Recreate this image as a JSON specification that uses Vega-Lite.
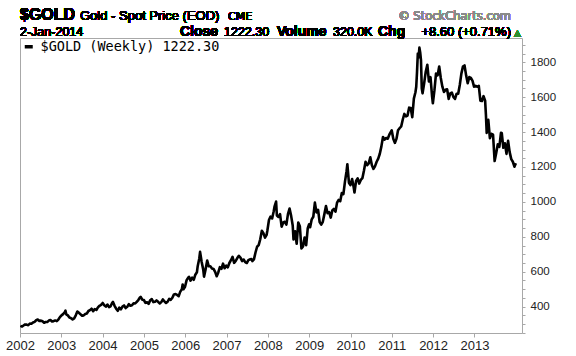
{
  "$schema": "https://vega.github.io/schema/vega-lite/v6.json",
  "width": 502,
  "height": 295,
  "autosize": {"type": "none"},
  "padding": {"left": 20, "top": 38, "right": 54, "bottom": 23},
  "background": "white",
  "config": {
    "view": {"stroke": "#a8a8a8", "strokeWidth": 1},
    "axis": {"grid": false, "domain": false}
  },
  "resolve": {"axis": {"x": "independent", "y": "independent"}},
  "data": {
    "values": [
      {"date": "2002-01-04", "price": 290}, {"date": "2002-01-18", "price": 286}, {"date": "2002-02-01", "price": 292},
      {"date": "2002-02-15", "price": 298}, {"date": "2002-03-01", "price": 297}, {"date": "2002-03-15", "price": 294},
      {"date": "2002-03-29", "price": 303}, {"date": "2002-04-12", "price": 302}, {"date": "2002-04-26", "price": 309},
      {"date": "2002-05-10", "price": 313}, {"date": "2002-05-24", "price": 322}, {"date": "2002-06-07", "price": 326},
      {"date": "2002-06-21", "price": 318}, {"date": "2002-07-05", "price": 320}, {"date": "2002-07-19", "price": 316},
      {"date": "2002-08-02", "price": 308}, {"date": "2002-08-16", "price": 312}, {"date": "2002-08-30", "price": 312},
      {"date": "2002-09-13", "price": 320}, {"date": "2002-09-27", "price": 323}, {"date": "2002-10-11", "price": 315},
      {"date": "2002-10-25", "price": 317}, {"date": "2002-11-08", "price": 321}, {"date": "2002-11-22", "price": 317},
      {"date": "2002-12-06", "price": 326}, {"date": "2002-12-20", "price": 340},
      {"date": "2003-01-03", "price": 350}, {"date": "2003-01-17", "price": 357}, {"date": "2003-01-31", "price": 368},
      {"date": "2003-02-07", "price": 377}, {"date": "2003-02-14", "price": 356}, {"date": "2003-02-28", "price": 350},
      {"date": "2003-03-14", "price": 338}, {"date": "2003-03-28", "price": 334}, {"date": "2003-04-11", "price": 327},
      {"date": "2003-04-25", "price": 333}, {"date": "2003-05-09", "price": 350}, {"date": "2003-05-23", "price": 372},
      {"date": "2003-06-06", "price": 365}, {"date": "2003-06-20", "price": 356}, {"date": "2003-07-04", "price": 348},
      {"date": "2003-07-18", "price": 350}, {"date": "2003-08-01", "price": 358}, {"date": "2003-08-15", "price": 361},
      {"date": "2003-08-29", "price": 375}, {"date": "2003-09-12", "price": 380}, {"date": "2003-09-26", "price": 388},
      {"date": "2003-10-10", "price": 374}, {"date": "2003-10-24", "price": 386}, {"date": "2003-11-07", "price": 381},
      {"date": "2003-11-21", "price": 396}, {"date": "2003-12-05", "price": 405}, {"date": "2003-12-19", "price": 410},
      {"date": "2004-01-02", "price": 421}, {"date": "2004-01-16", "price": 408}, {"date": "2004-01-30", "price": 400},
      {"date": "2004-02-13", "price": 412}, {"date": "2004-02-27", "price": 397}, {"date": "2004-03-12", "price": 402},
      {"date": "2004-03-26", "price": 422}, {"date": "2004-04-02", "price": 427}, {"date": "2004-04-16", "price": 405},
      {"date": "2004-04-30", "price": 388}, {"date": "2004-05-14", "price": 376}, {"date": "2004-05-28", "price": 394},
      {"date": "2004-06-11", "price": 385}, {"date": "2004-06-25", "price": 400}, {"date": "2004-07-09", "price": 407},
      {"date": "2004-07-23", "price": 392}, {"date": "2004-08-06", "price": 399}, {"date": "2004-08-20", "price": 414},
      {"date": "2004-09-03", "price": 405}, {"date": "2004-09-17", "price": 408}, {"date": "2004-10-01", "price": 419},
      {"date": "2004-10-15", "price": 418}, {"date": "2004-10-29", "price": 428}, {"date": "2004-11-12", "price": 438},
      {"date": "2004-11-26", "price": 452}, {"date": "2004-12-03", "price": 456}, {"date": "2004-12-17", "price": 440},
      {"date": "2004-12-31", "price": 438},
      {"date": "2005-01-14", "price": 422}, {"date": "2005-01-28", "price": 425}, {"date": "2005-02-11", "price": 416},
      {"date": "2005-02-25", "price": 436}, {"date": "2005-03-11", "price": 443}, {"date": "2005-03-25", "price": 426},
      {"date": "2005-04-08", "price": 428}, {"date": "2005-04-22", "price": 436}, {"date": "2005-05-06", "price": 428},
      {"date": "2005-05-20", "price": 418}, {"date": "2005-06-03", "price": 426}, {"date": "2005-06-17", "price": 441},
      {"date": "2005-07-01", "price": 430}, {"date": "2005-07-15", "price": 421}, {"date": "2005-07-29", "price": 428},
      {"date": "2005-08-12", "price": 445}, {"date": "2005-08-26", "price": 439}, {"date": "2005-09-09", "price": 451},
      {"date": "2005-09-23", "price": 470}, {"date": "2005-10-07", "price": 472}, {"date": "2005-10-21", "price": 467},
      {"date": "2005-11-04", "price": 460}, {"date": "2005-11-18", "price": 486}, {"date": "2005-12-02", "price": 500},
      {"date": "2005-12-09", "price": 527}, {"date": "2005-12-16", "price": 500}, {"date": "2005-12-30", "price": 514},
      {"date": "2006-01-13", "price": 552}, {"date": "2006-01-27", "price": 566}, {"date": "2006-02-03", "price": 571},
      {"date": "2006-02-17", "price": 549}, {"date": "2006-03-03", "price": 566}, {"date": "2006-03-17", "price": 554},
      {"date": "2006-03-31", "price": 583}, {"date": "2006-04-14", "price": 597}, {"date": "2006-04-21", "price": 632},
      {"date": "2006-05-05", "price": 676}, {"date": "2006-05-12", "price": 714}, {"date": "2006-05-26", "price": 656},
      {"date": "2006-06-09", "price": 612}, {"date": "2006-06-16", "price": 572}, {"date": "2006-06-30", "price": 614},
      {"date": "2006-07-14", "price": 664}, {"date": "2006-07-28", "price": 631}, {"date": "2006-08-11", "price": 631},
      {"date": "2006-08-25", "price": 619}, {"date": "2006-09-08", "price": 616}, {"date": "2006-09-22", "price": 599},
      {"date": "2006-10-06", "price": 574}, {"date": "2006-10-20", "price": 596}, {"date": "2006-11-03", "price": 626},
      {"date": "2006-11-17", "price": 617}, {"date": "2006-12-01", "price": 646}, {"date": "2006-12-15", "price": 620},
      {"date": "2006-12-29", "price": 635},
      {"date": "2007-01-12", "price": 625}, {"date": "2007-01-26", "price": 650}, {"date": "2007-02-09", "price": 666},
      {"date": "2007-02-23", "price": 685}, {"date": "2007-03-09", "price": 651}, {"date": "2007-03-23", "price": 662},
      {"date": "2007-04-06", "price": 678}, {"date": "2007-04-20", "price": 691}, {"date": "2007-05-04", "price": 681},
      {"date": "2007-05-18", "price": 661}, {"date": "2007-06-01", "price": 670}, {"date": "2007-06-15", "price": 655},
      {"date": "2007-06-29", "price": 650}, {"date": "2007-07-13", "price": 666}, {"date": "2007-07-27", "price": 671},
      {"date": "2007-08-10", "price": 672}, {"date": "2007-08-17", "price": 661}, {"date": "2007-08-31", "price": 671},
      {"date": "2007-09-14", "price": 710}, {"date": "2007-09-28", "price": 743}, {"date": "2007-10-12", "price": 752},
      {"date": "2007-10-26", "price": 786}, {"date": "2007-11-09", "price": 835}, {"date": "2007-11-23", "price": 821},
      {"date": "2007-12-07", "price": 795}, {"date": "2007-12-21", "price": 811}, {"date": "2007-12-28", "price": 836},
      {"date": "2008-01-11", "price": 896}, {"date": "2008-01-25", "price": 916}, {"date": "2008-02-08", "price": 905},
      {"date": "2008-02-22", "price": 946}, {"date": "2008-02-29", "price": 973}, {"date": "2008-03-14", "price": 1002},
      {"date": "2008-03-21", "price": 922}, {"date": "2008-04-04", "price": 914}, {"date": "2008-04-18", "price": 930},
      {"date": "2008-05-02", "price": 858}, {"date": "2008-05-16", "price": 882}, {"date": "2008-05-30", "price": 886},
      {"date": "2008-06-13", "price": 870}, {"date": "2008-06-27", "price": 930}, {"date": "2008-07-11", "price": 962},
      {"date": "2008-07-25", "price": 920}, {"date": "2008-08-08", "price": 865}, {"date": "2008-08-15", "price": 785},
      {"date": "2008-08-29", "price": 832}, {"date": "2008-09-12", "price": 760}, {"date": "2008-09-26", "price": 882},
      {"date": "2008-10-10", "price": 860}, {"date": "2008-10-24", "price": 733}, {"date": "2008-11-07", "price": 745},
      {"date": "2008-11-21", "price": 796}, {"date": "2008-12-05", "price": 752}, {"date": "2008-12-19", "price": 850},
      {"date": "2008-12-31", "price": 872},
      {"date": "2009-01-09", "price": 855}, {"date": "2009-01-23", "price": 900}, {"date": "2009-02-06", "price": 915},
      {"date": "2009-02-20", "price": 996}, {"date": "2009-03-06", "price": 940}, {"date": "2009-03-20", "price": 955},
      {"date": "2009-04-03", "price": 885}, {"date": "2009-04-17", "price": 870}, {"date": "2009-05-01", "price": 886},
      {"date": "2009-05-15", "price": 930}, {"date": "2009-05-29", "price": 976}, {"date": "2009-06-12", "price": 935},
      {"date": "2009-06-26", "price": 941}, {"date": "2009-07-10", "price": 910}, {"date": "2009-07-24", "price": 951},
      {"date": "2009-08-07", "price": 960}, {"date": "2009-08-21", "price": 944}, {"date": "2009-09-04", "price": 996},
      {"date": "2009-09-18", "price": 1011}, {"date": "2009-10-02", "price": 1004}, {"date": "2009-10-16", "price": 1051},
      {"date": "2009-10-30", "price": 1045}, {"date": "2009-11-13", "price": 1116}, {"date": "2009-11-27", "price": 1176},
      {"date": "2009-12-04", "price": 1216}, {"date": "2009-12-18", "price": 1110}, {"date": "2009-12-31", "price": 1096},
      {"date": "2010-01-15", "price": 1131}, {"date": "2010-01-29", "price": 1084}, {"date": "2010-02-05", "price": 1054},
      {"date": "2010-02-19", "price": 1120}, {"date": "2010-03-05", "price": 1135}, {"date": "2010-03-19", "price": 1105},
      {"date": "2010-04-02", "price": 1126}, {"date": "2010-04-16", "price": 1136}, {"date": "2010-04-30", "price": 1180},
      {"date": "2010-05-14", "price": 1230}, {"date": "2010-05-28", "price": 1210}, {"date": "2010-06-11", "price": 1221},
      {"date": "2010-06-25", "price": 1256}, {"date": "2010-07-09", "price": 1210}, {"date": "2010-07-23", "price": 1189},
      {"date": "2010-08-06", "price": 1205}, {"date": "2010-08-20", "price": 1230}, {"date": "2010-09-03", "price": 1248},
      {"date": "2010-09-17", "price": 1276}, {"date": "2010-10-01", "price": 1318}, {"date": "2010-10-15", "price": 1372},
      {"date": "2010-10-29", "price": 1357}, {"date": "2010-11-12", "price": 1366}, {"date": "2010-11-26", "price": 1362},
      {"date": "2010-12-10", "price": 1385}, {"date": "2010-12-31", "price": 1410},
      {"date": "2011-01-14", "price": 1362}, {"date": "2011-01-28", "price": 1338}, {"date": "2011-02-11", "price": 1361},
      {"date": "2011-02-25", "price": 1410}, {"date": "2011-03-11", "price": 1422}, {"date": "2011-03-25", "price": 1432},
      {"date": "2011-04-08", "price": 1472}, {"date": "2011-04-22", "price": 1504}, {"date": "2011-05-06", "price": 1490},
      {"date": "2011-05-20", "price": 1495}, {"date": "2011-06-03", "price": 1540}, {"date": "2011-06-17", "price": 1538},
      {"date": "2011-07-01", "price": 1485}, {"date": "2011-07-15", "price": 1592}, {"date": "2011-07-29", "price": 1628},
      {"date": "2011-08-05", "price": 1660}, {"date": "2011-08-12", "price": 1745}, {"date": "2011-08-19", "price": 1850},
      {"date": "2011-08-26", "price": 1828}, {"date": "2011-09-02", "price": 1884}, {"date": "2011-09-09", "price": 1856},
      {"date": "2011-09-16", "price": 1812}, {"date": "2011-09-23", "price": 1650}, {"date": "2011-09-30", "price": 1622},
      {"date": "2011-10-14", "price": 1680}, {"date": "2011-10-28", "price": 1746}, {"date": "2011-11-11", "price": 1786},
      {"date": "2011-11-25", "price": 1690}, {"date": "2011-12-09", "price": 1715}, {"date": "2011-12-23", "price": 1605},
      {"date": "2011-12-30", "price": 1565},
      {"date": "2012-01-13", "price": 1640}, {"date": "2012-01-27", "price": 1736}, {"date": "2012-02-10", "price": 1725},
      {"date": "2012-02-24", "price": 1776}, {"date": "2012-03-09", "price": 1710}, {"date": "2012-03-23", "price": 1660},
      {"date": "2012-04-06", "price": 1630}, {"date": "2012-04-20", "price": 1642}, {"date": "2012-05-04", "price": 1645},
      {"date": "2012-05-18", "price": 1590}, {"date": "2012-06-01", "price": 1621}, {"date": "2012-06-15", "price": 1626},
      {"date": "2012-06-29", "price": 1600}, {"date": "2012-07-13", "price": 1590}, {"date": "2012-07-27", "price": 1620},
      {"date": "2012-08-10", "price": 1620}, {"date": "2012-08-24", "price": 1670}, {"date": "2012-09-07", "price": 1735},
      {"date": "2012-09-21", "price": 1775}, {"date": "2012-10-05", "price": 1782}, {"date": "2012-10-19", "price": 1725},
      {"date": "2012-11-02", "price": 1680}, {"date": "2012-11-16", "price": 1715}, {"date": "2012-11-30", "price": 1710},
      {"date": "2012-12-14", "price": 1695}, {"date": "2012-12-28", "price": 1660},
      {"date": "2013-01-11", "price": 1665}, {"date": "2013-01-25", "price": 1660}, {"date": "2013-02-08", "price": 1665},
      {"date": "2013-02-22", "price": 1580}, {"date": "2013-03-08", "price": 1578}, {"date": "2013-03-22", "price": 1606},
      {"date": "2013-04-05", "price": 1580}, {"date": "2013-04-12", "price": 1500}, {"date": "2013-04-19", "price": 1395},
      {"date": "2013-05-03", "price": 1470}, {"date": "2013-05-17", "price": 1365}, {"date": "2013-05-31", "price": 1390},
      {"date": "2013-06-14", "price": 1385}, {"date": "2013-06-28", "price": 1234}, {"date": "2013-07-12", "price": 1280},
      {"date": "2013-07-26", "price": 1330}, {"date": "2013-08-09", "price": 1315}, {"date": "2013-08-23", "price": 1396},
      {"date": "2013-08-30", "price": 1395}, {"date": "2013-09-13", "price": 1310}, {"date": "2013-09-27", "price": 1336},
      {"date": "2013-10-11", "price": 1275}, {"date": "2013-10-25", "price": 1350}, {"date": "2013-11-08", "price": 1285},
      {"date": "2013-11-22", "price": 1245}, {"date": "2013-12-06", "price": 1230}, {"date": "2013-12-20", "price": 1202},
      {"date": "2013-12-27", "price": 1213}, {"date": "2014-01-02", "price": 1222}
    ]
  },
  "layer": [
    {
      "mark": {"type": "line", "color": "#000", "strokeWidth": 2.6, "strokeJoin": "round", "clip": true},
      "encoding": {
        "x": {
          "field": "date", "type": "temporal",
          "scale": {"domain": [{"year": 2002, "month": 1, "date": 1}, {"year": 2014, "month": 2, "date": 25}], "nice": false},
          "axis": {
            "title": null, "orient": "bottom", "format": "%Y",
            "values": [{"year": 2002}, {"year": 2003}, {"year": 2004}, {"year": 2005}, {"year": 2006}, {"year": 2007}, {"year": 2008}, {"year": 2009}, {"year": 2010}, {"year": 2011}, {"year": 2012}, {"year": 2013}],
            "labelFlush": false, "labelOverlap": false,
            "labelFont": "Liberation Sans", "labelFontSize": 13, "labelColor": "#222",
            "tickSize": 4, "tickColor": "#a8a8a8", "labelPadding": 2
          }
        },
        "y": {
          "field": "price", "type": "quantitative",
          "scale": {"domain": [249, 1939], "nice": false, "zero": false},
          "axis": {
            "title": null, "orient": "right",
            "values": [250, 300, 350, 400, 450, 500, 550, 600, 650, 700, 750, 800, 850, 900, 950, 1000, 1050, 1100, 1150, 1200, 1250, 1300, 1350, 1400, 1450, 1500, 1550, 1600, 1650, 1700, 1750, 1800, 1850, 1900],
            "labelExpr": "datum.value % 200 == 0 ? datum.label : ''",
            "format": "d", "labelOverlap": false, "labelBound": false,
            "labelFont": "Liberation Sans", "labelFontSize": 11.5, "labelColor": "#222",
            "tickSize": 3, "tickColor": "#a8a8a8", "labelPadding": 5
          }
        },
        "color": {
          "datum": "$GOLD (Weekly) 1222.30",
          "scale": {"range": ["#000000"]},
          "legend": {
            "title": null, "orient": "top-left", "offset": 2, "padding": 0,
            "symbolType": "stroke", "symbolStrokeWidth": 3.5, "symbolSize": 64,
            "labelFont": "DejaVu Sans Mono", "labelFontSize": 13.5, "labelColor": "#000", "labelOffset": 5, "labelLimit": 400
          }
        }
      }
    },
    {
      "mark": {"type": "text", "text": "$GOLD", "align": "left", "baseline": "alphabetic", "dx": 0, "font": "Liberation Sans", "fontSize": 16, "fontWeight": "bold", "color": "#000"},
      "encoding": {"x": {"datum": {"year": 2002, "month": 1, "date": 1}, "type": "temporal", "axis": null}, "y": {"datum": 2042, "type": "quantitative", "axis": null}}
    },
    {
      "mark": {"type": "text", "text": "Gold - Spot Price (EOD)", "align": "left", "baseline": "alphabetic", "dx": 60, "font": "Liberation Sans", "fontSize": 13, "color": "#000"},
      "encoding": {"x": {"datum": {"year": 2002, "month": 1, "date": 1}, "type": "temporal", "axis": null}, "y": {"datum": 2042, "type": "quantitative", "axis": null}}
    },
    {
      "mark": {"type": "text", "text": "CME", "align": "left", "baseline": "alphabetic", "dx": 208, "font": "DejaVu Sans", "fontSize": 11, "color": "#000"},
      "encoding": {"x": {"datum": {"year": 2002, "month": 1, "date": 1}, "type": "temporal", "axis": null}, "y": {"datum": 2042, "type": "quantitative", "axis": null}}
    },
    {
      "mark": {"type": "text", "text": "© StockCharts.com", "align": "right", "baseline": "alphabetic", "dx": -11, "font": "DejaVu Sans", "fontSize": 11.5, "color": "#8a8a8a"},
      "encoding": {"x": {"datum": {"year": 2014, "month": 2, "date": 25}, "type": "temporal", "axis": null}, "y": {"datum": 2042, "type": "quantitative", "axis": null}}
    },
    {
      "mark": {"type": "text", "text": "2-Jan-2014", "align": "left", "baseline": "alphabetic", "dx": 0, "font": "Liberation Sans", "fontSize": 12.5, "color": "#000"},
      "encoding": {"x": {"datum": {"year": 2002, "month": 1, "date": 1}, "type": "temporal", "axis": null}, "y": {"datum": 1950, "type": "quantitative", "axis": null}}
    },
    {
      "mark": {"type": "text", "text": "Close", "align": "left", "baseline": "alphabetic", "dx": 160, "font": "Liberation Sans", "fontSize": 14, "fontWeight": "bold", "color": "#000"},
      "encoding": {"x": {"datum": {"year": 2002, "month": 1, "date": 1}, "type": "temporal", "axis": null}, "y": {"datum": 1950, "type": "quantitative", "axis": null}}
    },
    {
      "mark": {"type": "text", "text": "1222.30", "align": "left", "baseline": "alphabetic", "dx": 204, "font": "Liberation Sans", "fontSize": 12.5, "color": "#000"},
      "encoding": {"x": {"datum": {"year": 2002, "month": 1, "date": 1}, "type": "temporal", "axis": null}, "y": {"datum": 1950, "type": "quantitative", "axis": null}}
    },
    {
      "mark": {"type": "text", "text": "Volume", "align": "left", "baseline": "alphabetic", "dx": 257, "font": "Liberation Sans", "fontSize": 14, "fontWeight": "bold", "color": "#000"},
      "encoding": {"x": {"datum": {"year": 2002, "month": 1, "date": 1}, "type": "temporal", "axis": null}, "y": {"datum": 1950, "type": "quantitative", "axis": null}}
    },
    {
      "mark": {"type": "text", "text": "320.0K", "align": "left", "baseline": "alphabetic", "dx": 313, "font": "Liberation Sans", "fontSize": 12.5, "color": "#000"},
      "encoding": {"x": {"datum": {"year": 2002, "month": 1, "date": 1}, "type": "temporal", "axis": null}, "y": {"datum": 1950, "type": "quantitative", "axis": null}}
    },
    {
      "mark": {"type": "text", "text": "Chg", "align": "left", "baseline": "alphabetic", "dx": 358, "font": "Liberation Sans", "fontSize": 14, "fontWeight": "bold", "color": "#000"},
      "encoding": {"x": {"datum": {"year": 2002, "month": 1, "date": 1}, "type": "temporal", "axis": null}, "y": {"datum": 1950, "type": "quantitative", "axis": null}}
    },
    {
      "mark": {"type": "text", "text": "+8.60 (+0.71%)", "align": "right", "baseline": "alphabetic", "dx": -11, "font": "Liberation Sans", "fontSize": 13, "color": "#000"},
      "encoding": {"x": {"datum": {"year": 2014, "month": 2, "date": 25}, "type": "temporal", "axis": null}, "y": {"datum": 1950, "type": "quantitative", "axis": null}}
    },
    {
      "mark": {"type": "text", "text": "▲", "align": "right", "baseline": "alphabetic", "dx": -1, "font": "DejaVu Sans", "fontSize": 9, "color": "#2f8f2f"},
      "encoding": {"x": {"datum": {"year": 2014, "month": 2, "date": 25}, "type": "temporal", "axis": null}, "y": {"datum": 1950, "type": "quantitative", "axis": null}}
    }
  ]
}
